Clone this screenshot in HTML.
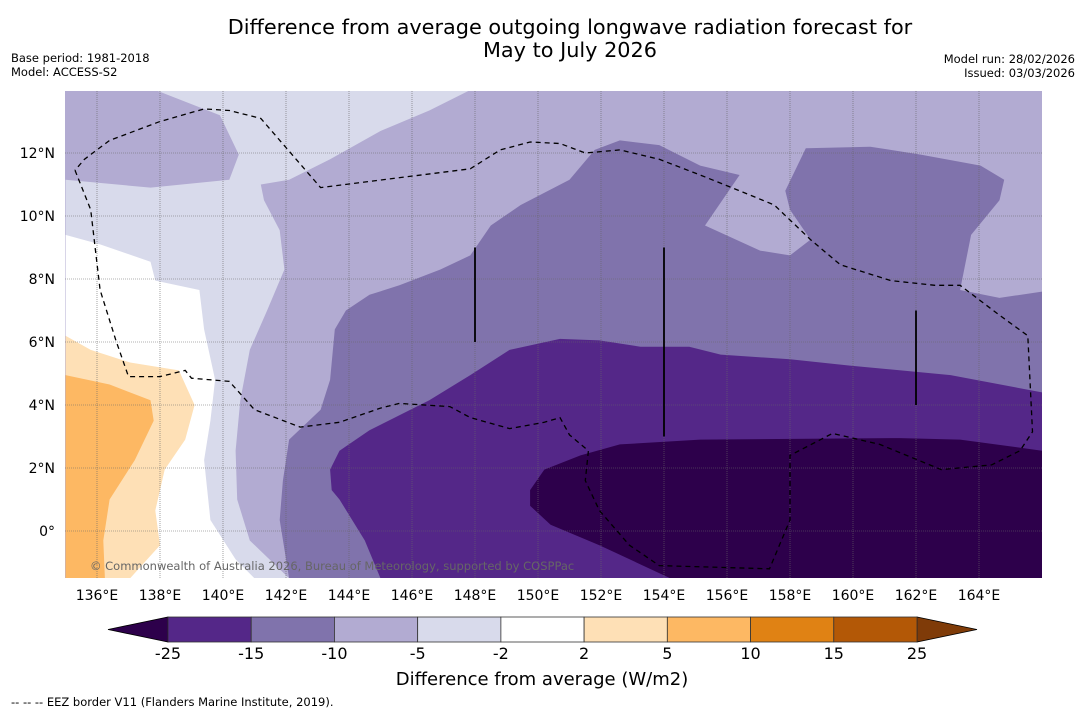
<!DOCTYPE html>
<html><head><meta charset="utf-8"><style>
body{margin:0;background:#fff;font-family:"Liberation Sans",sans-serif;}
svg text{font-family:"DejaVu Sans","Liberation Sans",sans-serif;}
</style></head><body>
<svg id="c" width="1085" height="713" xmlns="http://www.w3.org/2000/svg">
<text x="570" y="34" font-size="20.8" text-anchor="middle">Difference from average outgoing longwave radiation forecast for</text>
<text x="570" y="57" font-size="20.8" text-anchor="middle">May to July 2026</text>
<text x="11" y="62" font-size="11.5">Base period: 1981-2018</text>
<text x="11" y="76" font-size="11.5">Model: ACCESS-S2</text>
<text x="1075" y="63" font-size="11.5" text-anchor="end">Model run: 28/02/2026</text>
<text x="1075" y="77" font-size="11.5" text-anchor="end">Issued: 03/03/2026</text>
<g id="map"></g>
<text x="90" y="570" font-size="11.5" fill="#666">© Commonwealth of Australia 2026, Bureau of Meteorology, supported by COSPPac</text>
<g id="bar"></g>
<text x="542" y="685" font-size="18" text-anchor="middle">Difference from average (W/m2)</text>
<text x="11" y="706" font-size="11.5">--  --  -- EEZ border V11 (Flanders Marine Institute, 2019).</text>
</svg>
<script>
const lonTicks=[136,138,140,142,144,146,148,150,152,154,156,158,160,162,164];
const latTicks=[0,2,4,6,8,10,12];
const barLevels=[-25,-15,-10,-5,-2,2,5,10,15,25];
const barColors=['#542788','#8073ac','#b2abd2','#d8daeb','#ffffff','#fee0b6','#fdb863','#e08214','#b35806'];
const lowColor='#2d004b', highColor='#7f3b08';
const lightPoly=[[137.85,14],[147.85,14],[146.55,13.35],[145,12.7],[143.4,11.8],[142.1,11.15],[141.2,11],[141.3,10.5],[141.8,9.55],[141.95,8.3],[141.4,7.0],[140.85,5.75],[140.55,4.15],[140.4,2.55],[140.45,1.0],[140.85,-0.3],[142.1,-1.5],[135,-1.5],[135,11.15],[137.7,10.9],[140.2,11.15],[140.5,11.95],[139.9,13.2]];
const whitePoly=[[135,9.4],[136.1,9.1],[137.7,8.55],[137.85,7.95],[139.25,7.65],[139.4,6.4],[139.75,4.8],[139.6,3.5],[139.4,2.25],[139.6,0.35],[140.4,-0.9],[141,-1.5],[135,-1.5]];
const lightOrangePoly=[[135,6.2],[135.8,5.75],[137.05,5.35],[138.6,5.1],[139.1,4.0],[138.8,2.9],[138.15,1.95],[137.85,0.65],[138,-0.45],[137.05,-1.5],[135,-1.5]];
const orangePoly=[[135,4.95],[136.4,4.65],[137.7,4.15],[137.8,3.5],[137.2,2.25],[136.4,1.0],[136.2,-0.3],[136.25,-1.5],[135,-1.5]];
const medDarkPoly=[[142.1,-1.5],[141.8,0.35],[141.9,1.6],[142.1,2.9],[143.1,3.85],[143.4,4.8],[143.55,6.4],[143.9,7.0],[144.65,7.5],[145.6,7.8],[146.9,8.3],[147.85,8.75],[148.5,9.7],[149.45,10.35],[151,11.15],[151.8,12.1],[152.6,12.4],[153.85,12.25],[155.15,11.6],[156.4,11.3],[155.3,9.7],[157.05,8.9],[158,8.75],[158.65,9.25],[158,10.2],[157.85,10.8],[158.5,12.15],[160.55,12.2],[162.15,11.95],[164.05,11.6],[164.8,11.15],[164.65,10.5],[163.75,9.4],[163.4,7.65],[164.65,7.4],[166,7.6],[166,-1.5]];
const darkPoly=[[145,-1.5],[144.5,-0.3],[143.7,1.0],[143.45,1.3],[143.4,1.95],[143.7,2.55],[144.65,3.2],[146.55,4.15],[147.85,4.95],[149.1,5.75],[150.7,6.1],[151.95,6.05],[153.25,5.85],[154.8,5.85],[155.8,5.6],[158,5.45],[159.9,5.25],[163.1,4.95],[166,4.4],[166,-1.5]];
const darkestPoly=[[154.2,-1.5],[151.95,-0.45],[150.4,0.2],[149.75,0.8],[149.75,1.3],[150.2,1.95],[151.35,2.4],[152.6,2.75],[155.15,2.9],[161.5,2.95],[163.4,2.9],[166,2.55],[166,-1.5]];
const eezLine=[[135.3,11.45],[135.8,10.2],[136.1,7.65],[136.6,6.05],[137,4.9],[138,4.9],[138.8,5.1],[139,4.85],[140.2,4.75],[141,3.85],[142.45,3.3],[143.7,3.45],[145,3.9],[145.6,4.05],[147.2,3.95],[147.85,3.6],[149.1,3.25],[150.2,3.45],[150.7,3.6],[151,3.05],[151.6,2.55],[151.5,1.6],[151.95,0.65],[152.9,-0.45],[153.85,-1.1],[157.35,-1.2],[158,0.35],[158,2.4],[159.35,3.1],[160.85,2.75],[162.8,1.95],[164.4,2.1],[165.3,2.55],[165.7,3.15],[165.55,6.2],[164.65,6.85],[163.4,7.8],[162.6,7.8],[161.2,7.95],[159.6,8.45],[158.65,9.25],[157.5,10.35],[156.4,10.8],[155.15,11.3],[153.85,11.8],[152.6,12.1],[151.5,12.0],[150.7,12.3],[149.75,12.35],[148.8,12.1],[147.85,11.5],[143.1,10.9],[141.2,13.1],[140.2,13.35],[139.4,13.4],[138,13.0],[136.4,12.4],[135.6,11.8],[135.3,11.45]];
const eezSegments=[[148,9,6],[154,9,3],[162,7,4]];

const NS='http://www.w3.org/2000/svg';
const X0=65.5,Y0=531,K=31.5,LEFT=65,RIGHT=1042,TOP=91,BOT=578;
const xs=lon=>X0+(lon-135)*K;
const ys=lat=>Y0-lat*K;
function mk(tag,attrs,parent){const e=document.createElementNS(NS,tag);for(const k in attrs)e.setAttribute(k,attrs[k]);parent.appendChild(e);return e;}
const map=document.getElementById('map');
const clip=mk('clipPath',{id:'mc'},map);
mk('rect',{x:LEFT,y:TOP,width:RIGHT-LEFT,height:BOT-TOP},clip);
const g=mk('g',{'clip-path':'url(#mc)'},map);
const bg=mk('rect',{x:LEFT,y:TOP,width:RIGHT-LEFT,height:BOT-TOP,fill:'#b2abd2'},g);


const pts=a=>a.map(p=>xs(p[0]).toFixed(1)+','+ys(p[1]).toFixed(1)).join(' ');
const layers=[[lightPoly,'#d8daeb','region-minus5-to-minus2'],[whitePoly,'#ffffff','region-near-zero'],[lightOrangePoly,'#fee0b6','region-2-to-5'],[orangePoly,'#fdb863','region-5-to-10'],[medDarkPoly,'#8073ac','region-minus15-to-minus10'],[darkPoly,'#542788','region-minus25-to-minus15'],[darkestPoly,'#2d004b','region-below-minus25']];
layers.forEach(l=>{const p=mk('polygon',{points:pts(l[0]),fill:l[1]},g);

});
lonTicks.forEach(t=>{const ln=mk('line',{x1:xs(t),x2:xs(t),y1:TOP,y2:BOT,stroke:'#666','stroke-width':0.6,'stroke-dasharray':'1,1'},g);


const tx=mk('text',{x:xs(t),y:600,'font-size':14,'text-anchor':'middle'},map);tx.textContent=t+'°E';

});
latTicks.forEach(t=>{const ln=mk('line',{x1:LEFT,x2:RIGHT,y1:ys(t),y2:ys(t),stroke:'#666','stroke-width':0.6,'stroke-dasharray':'1,1'},g);


const tx=mk('text',{x:55,y:ys(t)+5,'font-size':14,'text-anchor':'end'},map);tx.textContent=t===0?'0°':t+'°N';

});
const eez=mk('polyline',{points:pts(eezLine),fill:'none',stroke:'#000','stroke-width':1.3,'stroke-dasharray':'5,4'},g);


eezSegments.forEach(s=>{const ln=mk('line',{x1:xs(s[0]),x2:xs(s[0]),y1:ys(s[1]),y2:ys(s[2]),stroke:'#000','stroke-width':1.8},g);

});
const bar=document.getElementById('bar');
const BX0=168,BX1=917,BY=617,BH=25,n=barLevels.length-1,w=(BX1-BX0)/n;
const lt=mk('polygon',{points:`${BX0},${BY} ${BX0},${BY+BH} 108,${BY+BH/2}`,fill:lowColor,stroke:'#000','stroke-width':0.8},bar);


const rt=mk('polygon',{points:`${BX1},${BY} ${BX1},${BY+BH} 977,${BY+BH/2}`,fill:highColor,stroke:'#000','stroke-width':0.8},bar);


barColors.forEach((c,i)=>{const r=mk('rect',{x:BX0+i*w,y:BY,width:w,height:BH,fill:c,stroke:'#333','stroke-width':0.8},bar);

});
barLevels.forEach((v,i)=>{const tx=mk('text',{x:BX0+i*w,y:659,'font-size':16,'text-anchor':'middle'},bar);tx.textContent=v;

});
</script>
</body></html>
